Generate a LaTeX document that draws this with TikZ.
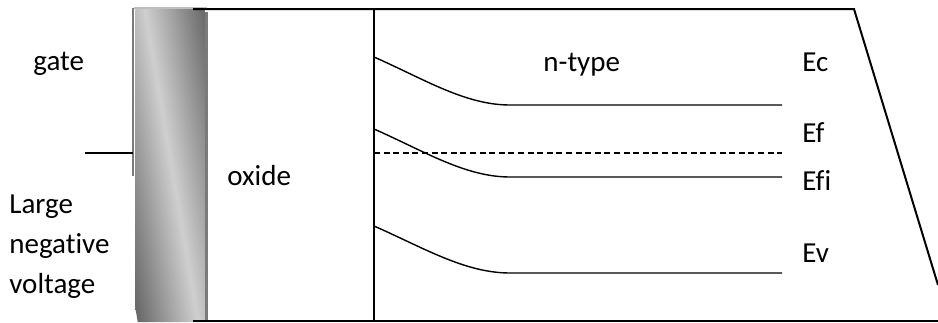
\documentclass[tikz,border=0pt]{standalone}
\usepackage{fontspec}
\setmainfont{Carlito}[Ligatures=NoCommon]
\usetikzlibrary{positioning}
\definecolor{gatedark}{HTML}{686868}
\definecolor{gatelight}{HTML}{CFCFCF}
\definecolor{gateedge}{HTML}{7A7A7A}
\tikzstyle{label_text} = [inner sep=0pt, font=\fontsize{14.5}{20}\selectfont]
\tikzstyle{frame_line} = [line width=1pt]
\tikzstyle{band_line} = [line width=0.7pt]
\tikzstyle{fermi_line} = [line width=0.7pt, dash pattern=on 3pt off 1.8pt]

\begin{document}
\begin{tikzpicture}[x=0.5pt, y=-0.5pt]
\useasboundingbox (0,0) rectangle (938,322);

% gate electrode, light band running diagonally
\begin{scope}
\clip (135,9) rectangle (205,322);
\shade[transform canvas={xslant=-0.17}, left color=gatedark, right color=gatedark, middle color=gatelight]
  (83,0) rectangle (203,322);
\end{scope}
\fill[gateedge] (205,12) rectangle (208,322);
\draw[gateedge, line width=1pt] (133,8) -- (133,176);
\draw[gatelight!80!gray, line width=1pt] (134,7.5) -- (207,7.5);

% outline of oxide and semiconductor
\coordinate (tl) at (193,9);
\coordinate (tr) at (854,9);
\coordinate (br) at (938,285);
\coordinate (bl) at (193,321);
\coordinate (be) at (938,321);
\coordinate (ox_top) at (374,9);
\coordinate (ox_bot) at (374,321);
\draw[frame_line] (tl) -- (tr) -- (br);
\draw[frame_line] (bl) -- (be);
\draw[line width=0.8pt] (ox_top) -- (ox_bot);

% gate contact
\coordinate (wire) at (85,153);
\coordinate (gate_in) at (133,153);
\draw[line width=0.8pt] (wire) -- (gate_in);

% bands
\coordinate (ec_s) at (374,57);   \coordinate (ec_e) at (782,105);
\coordinate (efi_s) at (374,129); \coordinate (efi_e) at (782,177);
\coordinate (ev_s) at (374,226);  \coordinate (ev_e) at (782,273);
\coordinate (ef_s) at (374,153);  \coordinate (ef_e) at (782,153);
\draw[band_line] (ec_s) .. controls +(50,22) and +(-45,0) .. ++(136,48) -- (ec_e);
\draw[band_line] (efi_s) .. controls +(50,22) and +(-45,0) .. ++(136,48) -- (efi_e);
\draw[band_line] (ev_s) .. controls +(50,22) and +(-45,0) .. ++(136,47) -- (ev_e);
\draw[fermi_line] (ef_s) -- (ef_e);

% labels
\node (gate) [label_text, anchor=base west] at (33,70) {gate};
\node (large) [label_text, anchor=base west] at (9,213) {Large};
\node (negative) [label_text, anchor=base west] at (9,253) {negative};
\node (voltage) [label_text, anchor=base west] at (9,293) {voltage};
\node (oxide) [label_text, anchor=base west] at (227,185) {oxide};
\node (ntype) [label_text, anchor=base west] at (543,71) {n-type};
\node (ec) [label_text, anchor=base west] at (802,71) {Ec};
\node (ef) [label_text, anchor=base west] at (802,142) {Ef};
\node (efi) [label_text, anchor=base west] at (802,190) {Efi};
\node (ev) [label_text, anchor=base west] at (802,262) {Ev};
\end{tikzpicture}
\end{document}
